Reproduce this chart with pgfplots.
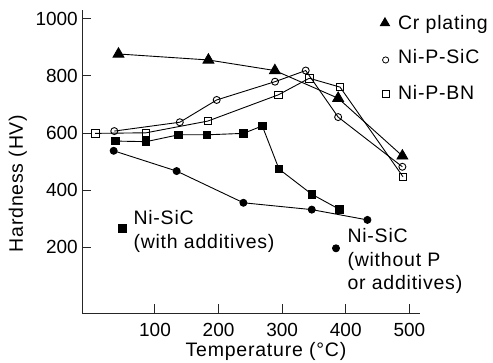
\documentclass[border=0pt]{standalone}
\usepackage{fontspec}
\setmainfont{Liberation Sans}
\newfontfamily\lsp[LetterSpace=4]{Liberation Sans}
\usepackage{pgfplots}
\pgfplotsset{compat=1.18}
\begin{document}
\begin{tikzpicture}
\begin{axis}[
  at={(0pt,0pt)}, anchor=south west,
  scale only axis, width=337.7pt, height=303.3pt,
  xmin=-14.3, xmax=516.7, ymin=-31, ymax=1031,
  axis lines*=left,
  axis line style={line width=1.2pt, black!85},
  xtick={100,200,300,400,500}, ytick={200,400,600,800,1000},
  tick align=inside, major tick length=9pt,
  tick style={line width=1pt, black!85},
  /pgf/number format/assume math mode=true,
  /pgf/number format/1000 sep={},
  tick label style={font=\fontsize{19}{22}\selectfont, inner sep=0pt},
  yticklabel style={xshift=-4.3pt},
  xticklabel style={yshift=-9.7pt},
  xlabel={Temperature (°C)},
  ylabel={Hardness (HV)},
  label style={font=\fontsize{19.5}{24}\lsp, inner sep=0pt},
  xlabel style={at={(axis description cs:0.544,-0.144)}, anchor=base},
  ylabel style={at={(axis description cs:-0.1756,0.428)}, anchor=base, rotate=0},
  clip=false,
  every axis plot/.append style={line width=0.9pt, black},
]
% Cr plating
\addplot[mark=triangle*, mark size=6.2pt, mark options={fill=black}] coordinates {
(42.6,877) (184,856) (288.5,819) (388,722) (489,520)};
% Ni-P-SiC
\addplot[mark=o, mark size=3.5pt, mark options={fill=white, line width=0.9pt}] coordinates {
(36,607) (139,638) (197,716) (288.7,780) (337,819) (388,656) (489,482)};
% Ni-P-BN
\addplot[mark=square, mark size=3.8pt, mark options={fill=white, line width=0.9pt}] coordinates {
(6,599) (86,601) (183,642) (294,734) (342.6,792) (391,761) (490,447)};
% Ni-SiC with additives
\addplot[mark=square*, mark size=3.8pt, mark options={fill=black}] coordinates {
(38,572) (86,570) (137,594) (182,594) (239,599) (268.7,625) (295,474) (346.5,386) (390,333)};
% Ni-SiC without P or additives
\addplot[mark=*, mark size=3.5pt, mark options={fill=black}] coordinates {
(35,538) (134,467) (239,356) (346.5,332) (434,296)};
% legend-like markers
\addplot[only marks, mark=triangle*, mark size=5.3pt, mark options={fill=black}, forget plot] coordinates {(461.6,985)};
\addplot[only marks, mark=o, mark size=3.1pt, mark options={fill=white, line width=0.8pt}, forget plot] coordinates {(462.7,856)};
\addplot[only marks, mark=square, mark size=3.4pt, mark options={fill=white, line width=0.8pt}, forget plot] coordinates {(462.7,736)};
\addplot[only marks, mark=square*, mark size=4.1pt, mark options={fill=black}, forget plot] coordinates {(48.6,266.6)};
\addplot[only marks, mark=*, mark size=3.5pt, mark options={fill=black}, forget plot] coordinates {(384.6,196.6)};
% annotation texts
\begin{scope}[every node/.style={font=\fontsize{19.5}{24}\lsp, inner sep=0pt, anchor=base west}]
\node at (axis cs:482,961.4) {Cr plating};
\node at (axis cs:482,842.3) {Ni-P-SiC};
\node at (axis cs:482,716) {Ni-P-BN};
\node at (axis cs:65.9,280.7) {Ni-SiC};
\node at (axis cs:65.9,196.6) {(with additives)};
\node at (axis cs:402.4,217.5) {Ni-SiC};
\node at (axis cs:402.4,134.5) {(without P};
\node at (axis cs:402.4,54) {or additives)};
\end{scope}
\end{axis}
\pgfresetboundingbox
\path[use as bounding box] (-82.3pt,-49.7pt) rectangle (410.7pt,313.3pt);
\end{tikzpicture}
\end{document}
